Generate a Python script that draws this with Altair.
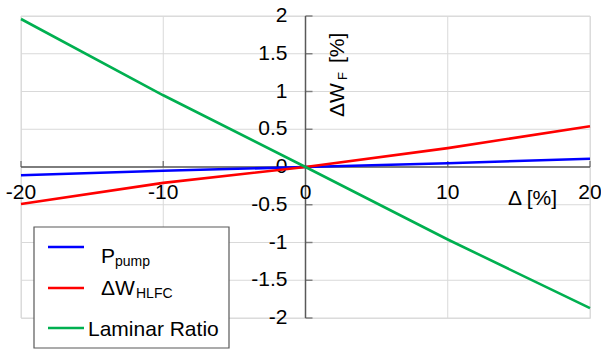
import altair as alt
import pandas as pd

# Relative change of the parameter [%]
x_pct = [-20, -10, 0, 10, 20]

# Change of fuel weight [%] for each parameter
p_pump = [-0.11, -0.05, 0.0, 0.05, 0.11]
dw_hlfc = [-0.49, -0.21, 0.0, 0.25, 0.54]
laminar_ratio = [1.96, 0.95, 0.0, -0.96, -1.87]

series_names = ["P_pump", "dW_HLFC", "Laminar Ratio"]
series_colors = ["#0000ff", "#ff0000", "#00b050"]

x_ticks = [-20, -10, 0, 10, 20]
x_tick_labels = ["-20", "-10", "0", "10", "20"]
y_ticks = [2, 1.5, 1, 0.5, 0, -0.5, -1, -1.5, -2]
y_tick_labels = ["2", "1.5", "1", "0.5", "0", "-0.5", "-1", "-1.5", "-2"]

W, H = 569, 302
FONT = "Liberation Sans"
AXIS_COLOR = "#595959"
GRID_COLOR = "#d9d9d9"

xs = alt.Scale(domain=[-20, 20], nice=False, zero=False)
ys = alt.Scale(domain=[-2, 2], nice=False, zero=False)


def X(field):
    return alt.X(field, type="quantitative", scale=xs, axis=None)


def Y(field):
    return alt.Y(field, type="quantitative", scale=ys, axis=None)


one = pd.DataFrame({"x": [0], "y": [0]})

# grid lines
grid_x = alt.Chart(pd.DataFrame({"x": x_ticks})).mark_rule(
    color=GRID_COLOR, strokeWidth=1).encode(x=X("x"))
grid_y = alt.Chart(pd.DataFrame({"y": y_ticks})).mark_rule(
    color=GRID_COLOR, strokeWidth=1).encode(y=Y("y"))

# axes crossing at the origin
axis_x = alt.Chart(one).mark_rule(color=AXIS_COLOR, strokeWidth=1.5).encode(y=Y("y"))
axis_y = alt.Chart(one).mark_rule(color=AXIS_COLOR, strokeWidth=1.5).encode(x=X("x"))

xt = pd.DataFrame({"x": [v for v in x_ticks if v != 0], "y": 0})
yt = pd.DataFrame({"y": [v for v in y_ticks if v != 0], "x": 0})
ticks_x = alt.Chart(xt).mark_tick(
    orient="vertical", size=6, thickness=1.5, yOffset=-3, color=AXIS_COLOR
).encode(x=X("x"), y=Y("y"))
ticks_y = alt.Chart(yt).mark_tick(
    orient="horizontal", size=7, thickness=1.5, xOffset=3.5, color=AXIS_COLOR
).encode(x=X("x"), y=Y("y"))

# tick labels
xl = pd.DataFrame({"x": x_ticks, "y": 0, "t": x_tick_labels})
yl = pd.DataFrame({"y": y_ticks, "x": 0, "t": y_tick_labels})
labels_x = alt.Chart(xl).mark_text(
    font=FONT, fontSize=21, color="#000", dy=26, baseline="middle", align="center"
).encode(x=X("x"), y=Y("y"), text="t:N")
labels_y = alt.Chart(yl).mark_text(
    font=FONT, fontSize=21, color="#000", dx=-18, baseline="middle", align="right"
).encode(x=X("x"), y=Y("y"), text="t:N")

# data series
rows = []
for name, vals in zip(series_names, [p_pump, dw_hlfc, laminar_ratio]):
    for xv, yv in zip(x_pct, vals):
        rows.append({"x": xv, "y": yv, "series": name})
df = pd.DataFrame(rows)
lines = alt.Chart(df).mark_line(strokeWidth=2.6).encode(
    x=X("x"),
    y=Y("y"),
    color=alt.Color("series:N", scale=alt.Scale(domain=series_names, range=series_colors), legend=None),
    detail="series:N",
)


def txt(text, x, y, size=21, angle=0):
    props = dict(font=FONT, fontSize=size, color="#000", align="left", baseline="alphabetic", text=text)
    if angle:
        props["angle"] = angle
    return alt.Chart(one).mark_text(**props).encode(x=alt.value(x), y=alt.value(y))


# axis titles
x_title = txt("Δ [%]", 487, 189)
y_title = (
    txt("ΔW", 323, 101, angle=270)
    + txt("F", 325.5, 64, size=13, angle=270)
    + txt("[%]", 323, 47, angle=270)
)

# legend
legend_box = alt.Chart(one).mark_rect(
    fill="white", stroke=AXIS_COLOR, strokeWidth=1.2
).encode(x=alt.value(13), x2=alt.value(208), y=alt.value(211), y2=alt.value(332))

legend_rows = [231, 272, 312]
legend_lines = None
for color, ly in zip(series_colors, legend_rows):
    seg = alt.Chart(one).mark_rule(color=color, strokeWidth=2.6).encode(
        x=alt.value(27), x2=alt.value(63), y=alt.value(ly))
    legend_lines = seg if legend_lines is None else legend_lines + seg

legend_text = (
    txt("P", 80, 247)
    + txt("pump", 94, 249.5, size=14)
    + txt("ΔW", 80, 279)
    + txt("HLFC", 115, 281.5, size=14)
    + txt("Laminar Ratio", 67, 320)
)

chart = alt.layer(
    grid_x, grid_y, axis_x, axis_y, ticks_x, ticks_y,
    labels_x, labels_y, lines, x_title, y_title,
    legend_box, legend_lines, legend_text,
).properties(
    width=W,
    height=H,
    autosize="none",
    padding={"left": 21, "top": 16, "right": 11, "bottom": 32},
).configure_view(stroke=None).configure(background="white")

chart.save("out.html", embed_options={"renderer": "svg", "actions": False})
